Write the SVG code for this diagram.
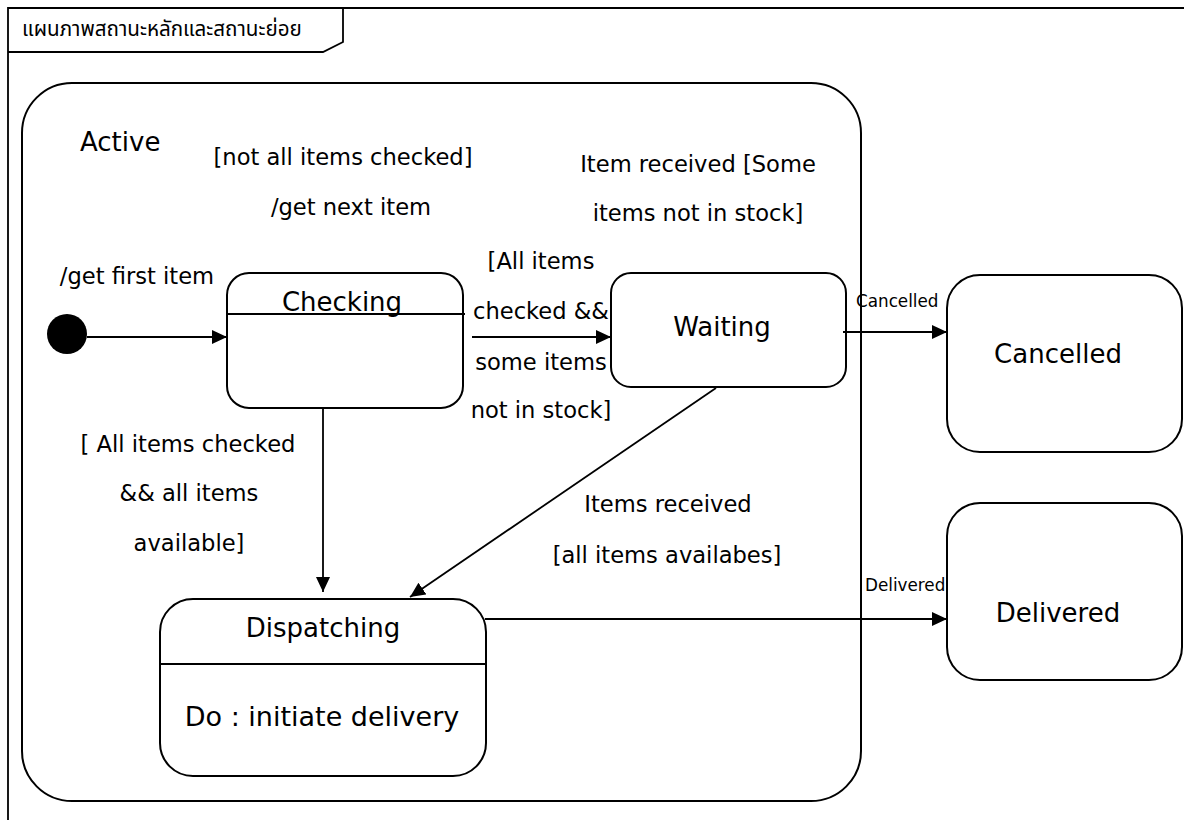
<svg xmlns="http://www.w3.org/2000/svg" width="1184" height="820" viewBox="0 0 1184 820">
<defs>
<marker id="ah" markerWidth="15" markerHeight="14" refX="15" refY="7" orient="auto" markerUnits="userSpaceOnUse">
<path d="M0,0 L15,7 L0,14 Z" fill="#000"/>
</marker>
<style>
.s{fill:#fff;stroke:#000;stroke-width:2}
.l{fill:none;stroke:#000;stroke-width:1.8}
.c{fill:none;stroke:#000;stroke-width:1.8;marker-end:url(#ah)}
text{font-family:"DejaVu Sans","Noto Sans","Noto Sans Thai",sans-serif;fill:#000}
.t{font-size:22.6px;text-anchor:middle}
.n{font-size:26px;text-anchor:middle}
.sm{font-size:16.8px}
</style>
</defs>
<rect width="1184" height="820" fill="#fff"/>
<g id="frame">
<path d="M8,820 L8,8 L1184,8" class="l" stroke-width="2"/>
<path d="M8,52 L323,52 L343,42 L343,8" class="l"/>
<text x="22" y="36" style="font-size:20.6px">แผนภาพสถานะหลักและสถานะย่อย</text>
</g>
<g id="active">
<rect x="22" y="83" width="839" height="718" rx="50" class="s"/>
<text x="80" y="151" style="font-size:26px">Active</text>
</g>
<g id="initial">
<circle cx="67" cy="334" r="20" fill="#000"/>
</g>
<g id="checking">
<rect x="227" y="273" width="236" height="135" rx="22" class="s"/>
<line x1="227" y1="314" x2="465" y2="314" class="l"/>
<text x="342" y="311" class="n">Checking</text>
</g>
<g id="waiting">
<rect x="611" y="273" width="235" height="114" rx="20" class="s"/>
<text x="722" y="336" class="n">Waiting</text>
</g>
<g id="cancelled">
<rect x="947" y="275" width="235" height="177" rx="33" class="s"/>
<text x="1058" y="363" class="n">Cancelled</text>
</g>
<g id="delivered">
<rect x="947" y="503" width="235" height="177" rx="33" class="s"/>
<text x="1058" y="622" class="n">Delivered</text>
</g>
<g id="dispatching">
<rect x="160" y="599" width="326" height="177" rx="33" class="s"/>
<line x1="160" y1="664" x2="487" y2="664" class="l"/>
<text x="323" y="637" class="n">Dispatching</text>
<text x="322" y="726" class="n" style="font-size:27px">Do : initiate delivery</text>
</g>
<g id="connectors">
<line x1="87" y1="337" x2="227" y2="337" class="c"/>
<line x1="472" y1="337" x2="611" y2="337" class="c"/>
<line x1="843" y1="332" x2="947" y2="332" class="c"/>
<line x1="323" y1="408" x2="323" y2="592" class="c"/>
<line x1="716" y1="388" x2="410" y2="597" class="c"/>
<line x1="485" y1="619" x2="947" y2="619" class="c"/>
</g>
<g id="labels">
<text x="343" y="165" class="t">[not all items checked]</text>
<text x="351" y="215" class="t">/get next item</text>
<text x="698" y="172" class="t">Item received [Some</text>
<text x="698" y="221" class="t">items not in stock]</text>
<text x="137" y="284" class="t">/get first item</text>
<text x="541" y="269" class="t">[All items</text>
<text x="541" y="319" class="t">checked &amp;&amp;</text>
<text x="541" y="370" class="t">some items</text>
<text x="541" y="418" class="t">not in stock]</text>
<text x="188" y="452" class="t">[ All items checked</text>
<text x="189" y="501" class="t">&amp;&amp; all items</text>
<text x="189" y="551" class="t">available]</text>
<text x="668" y="512" class="t">Items received</text>
<text x="667" y="563" class="t">[all items availabes]</text>
<text x="856" y="307" class="sm">Cancelled</text>
<text x="865" y="591" class="sm">Delivered</text>
</g>
</svg>
